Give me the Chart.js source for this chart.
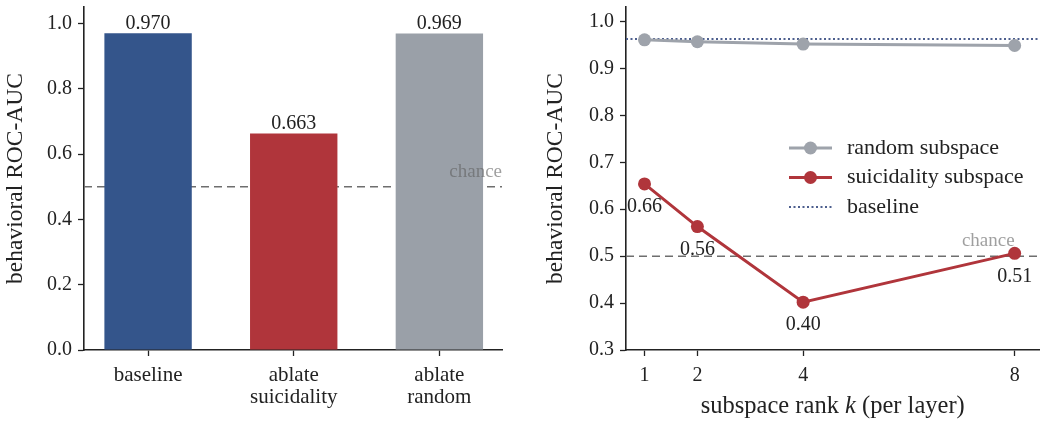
<!DOCTYPE html>
<html>
<head>
<meta charset="utf-8">
<script src="https://cdn.jsdelivr.net/npm/chart.js@4/dist/chart.umd.min.js"></script>
<style>
  html, body { margin: 0; padding: 0; background: #fff; }
  #left { position: absolute; left: 0; top: 0; }
  #right { position: absolute; left: 520px; top: 0; }
</style>
</head>
<body>
<canvas id="left" width="520" height="424"></canvas>
<canvas id="right" width="526" height="424"></canvas>
<script>
// left panel: ablation bars
const barLabels = [['baseline'], ['ablate', 'suicidality'], ['ablate', 'random']];
const barValues = [0.970, 0.663, 0.969];
const barColors = ['#34558b', '#b0353b', '#9aa0a8'];
const leftYTicks = [0.0, 0.2, 0.4, 0.6, 0.8, 1.0];

// right panel: subspace rank sweep
const ranks = [1, 2, 4, 8];
const randomAuc = [0.961, 0.957, 0.952, 0.949];
const suicidalityAuc = [0.654, 0.563, 0.402, 0.506];
const suicidalityText = ['0.66', '0.56', '0.40', '0.51'];
const rightYTicks = [0.3, 0.4, 0.5, 0.6, 0.7, 0.8, 0.9, 1.0];
const baselineAuc = 0.963;
const chanceLevel = 0.5;

const SERIF = '"Liberation Serif", "Times New Roman", serif';
const INK = '#222';
Chart.defaults.font.family = SERIF;
Chart.defaults.color = INK;

function font(size, style) {
  return (style || '') + ' ' + size + 'px ' + SERIF;
}

function chancePlugin(labelRight) {
  return {
    id: 'chance',
    beforeDatasetsDraw(chart) {
      const {ctx, chartArea, scales} = chart;
      const y = scales.y.getPixelForValue(chanceLevel);
      ctx.save();
      ctx.strokeStyle = '#6e6e6e';
      ctx.lineWidth = 1.5;
      ctx.setLineDash([8, 5]);
      ctx.beginPath();
      ctx.moveTo(chartArea.left, y);
      ctx.lineTo(chartArea.right, y);
      ctx.stroke();
      ctx.restore();
    },
    afterDatasetsDraw(chart) {
      const {ctx, scales} = chart;
      const y = scales.y.getPixelForValue(chanceLevel);
      ctx.save();
      ctx.font = font(19);
      ctx.fillStyle = 'rgba(95,95,95,0.6)';
      ctx.textAlign = 'right';
      ctx.textBaseline = 'alphabetic';
      ctx.fillText('chance', labelRight(chart), y - 10);
      ctx.restore();
    },
  };
}

const barValuePlugin = {
  id: 'barValues',
  afterDatasetsDraw(chart) {
    const {ctx} = chart;
    ctx.save();
    ctx.font = font(20);
    ctx.fillStyle = INK;
    ctx.textAlign = 'center';
    ctx.textBaseline = 'alphabetic';
    chart.getDatasetMeta(0).data.forEach((el, i) => {
      ctx.fillText(barValues[i].toFixed(3), el.x, el.y - 4);
    });
    ctx.restore();
  },
};

function yAxis(min, max, ticks, width, titlePad) {
  return {
    min: min,
    max: max,
    afterBuildTicks: (s) => { s.ticks = ticks.map((v) => ({value: v})); },
    afterFit: (s) => { s.width = width; s.paddingTop = 0; s.paddingBottom = 0; },
    ticks: {callback: (v) => v.toFixed(1), font: {size: 20}, padding: 6, color: INK},
    grid: {drawOnChartArea: false, tickLength: 6, tickColor: INK, tickWidth: 1.3},
    border: {color: INK, width: 1.6},
    title: {display: true, text: 'behavioral ROC-AUC', font: {size: 23.5}, padding: {top: titlePad}, color: INK},
  };
}

new Chart(document.getElementById('left'), {
  type: 'bar',
  data: {
    datasets: [{
      data: barValues.map((v, i) => ({x: i, y: v})),
      backgroundColor: barColors,
      barPercentage: 0.6,
      categoryPercentage: 1.0,
    }],
  },
  options: {
    responsive: false,
    animation: false,
    layout: {padding: {top: 7, right: 18, left: 0, bottom: 0}},
    plugins: {legend: {display: false}, tooltip: {enabled: false}},
    scales: {
      x: {
        type: 'linear',
        min: -0.44,
        max: 2.43,
        offset: false,
        afterBuildTicks: (s) => { s.ticks = barLabels.map((l, i) => ({value: i})); },
        afterFit: (s) => { s.height = 74; s.paddingLeft = 0; s.paddingRight = 0; },
        ticks: {
          callback: (v) => barLabels[v],
          font: {size: 21, lineHeight: 1.05},
          padding: 8,
          maxRotation: 0,
          autoSkip: false,
          color: INK,
        },
        grid: {offset: false, drawOnChartArea: false, tickLength: 6, tickColor: INK, tickWidth: 1.3},
        border: {color: INK, width: 1.6},
      },
      y: yAxis(0, 1.05, leftYTicks, 84, 2),
    },
  },
  plugins: [chancePlugin((c) => c.chartArea.right), barValuePlugin],
});

const legendItems = [
  {text: 'random subspace', dataset: 1},
  {text: 'suicidality subspace', dataset: 0},
  {text: 'baseline', dataset: null},
];

const rightExtras = {
  id: 'rightExtras',
  beforeDatasetsDraw(chart) {
    const {ctx, chartArea, scales} = chart;
    const y = scales.y.getPixelForValue(baselineAuc);
    ctx.save();
    ctx.strokeStyle = '#4d5f8e';
    ctx.lineWidth = 2;
    ctx.setLineDash([2, 2.5]);
    ctx.beginPath();
    ctx.moveTo(chartArea.left, y);
    ctx.lineTo(chartArea.right, y);
    ctx.stroke();
    ctx.restore();
  },
  afterDatasetsDraw(chart) {
    const {ctx} = chart;
    ctx.save();
    ctx.font = font(20);
    ctx.fillStyle = INK;
    ctx.textAlign = 'center';
    ctx.textBaseline = 'middle';
    chart.getDatasetMeta(0).data.forEach((el, i) => {
      ctx.fillText(suicidalityText[i], el.x, el.y + 23);
    });

    // legend
    const x0 = 269, x1 = 312, tx = 327;
    legendItems.forEach((item, i) => {
      const y = 148 + i * 29.5;
      ctx.save();
      if (item.dataset === null) {
        ctx.strokeStyle = '#4d5f8e';
        ctx.lineWidth = 2;
        ctx.setLineDash([2, 2.5]);
        ctx.beginPath();
        ctx.moveTo(x0, y);
        ctx.lineTo(x1, y);
        ctx.stroke();
      } else {
        const ds = chart.data.datasets[item.dataset];
        ctx.strokeStyle = ds.borderColor;
        ctx.lineWidth = ds.borderWidth;
        ctx.beginPath();
        ctx.moveTo(x0, y);
        ctx.lineTo(x1, y);
        ctx.stroke();
        ctx.fillStyle = ds.pointBackgroundColor;
        ctx.beginPath();
        ctx.arc((x0 + x1) / 2, y, ds.pointRadius, 0, Math.PI * 2);
        ctx.fill();
      }
      ctx.restore();
      ctx.font = font(22);
      ctx.fillStyle = INK;
      ctx.textAlign = 'left';
      ctx.textBaseline = 'middle';
      ctx.fillText(item.text, tx, y);
    });

    // x axis title with italic k
    const parts = [['subspace rank ', ''], ['k', 'italic'], [' (per layer)', '']];
    let total = 0;
    parts.forEach((p) => { ctx.font = font(24.5, p[1]); total += ctx.measureText(p[0]).width; });
    let x = (chart.chartArea.left + chart.chartArea.right) / 2 - total / 2;
    ctx.textAlign = 'left';
    ctx.textBaseline = 'alphabetic';
    parts.forEach((p) => {
      ctx.font = font(24.5, p[1]);
      ctx.fillText(p[0], x, 413);
      x += ctx.measureText(p[0]).width;
    });
    ctx.restore();
  },
};

new Chart(document.getElementById('right'), {
  type: 'line',
  data: {
    datasets: [
      {
        label: 'suicidality subspace',
        data: ranks.map((r, i) => ({x: r, y: suicidalityAuc[i]})),
        borderColor: '#b0353b',
        pointBackgroundColor: '#b0353b',
        borderWidth: 3,
        pointRadius: 6.5,
        pointBorderWidth: 0,
      },
      {
        label: 'random subspace',
        data: ranks.map((r, i) => ({x: r, y: randomAuc[i]})),
        borderColor: '#9ea3ab',
        pointBackgroundColor: '#9ea3ab',
        borderWidth: 3,
        pointRadius: 6.5,
        pointBorderWidth: 0,
      },
    ],
  },
  options: {
    responsive: false,
    animation: false,
    layout: {padding: {top: 7, right: 0, left: 0, bottom: 0}},
    plugins: {legend: {display: false}, tooltip: {enabled: false}},
    scales: {
      x: {
        type: 'linear',
        min: 0.65,
        max: 8.47,
        afterBuildTicks: (s) => { s.ticks = ranks.map((r) => ({value: r})); },
        afterFit: (s) => { s.height = 74; s.paddingLeft = 0; s.paddingRight = 0; },
        ticks: {callback: (v) => String(v), font: {size: 20}, padding: 8, maxRotation: 0, autoSkip: false, color: INK},
        grid: {drawOnChartArea: false, tickLength: 6, tickColor: INK, tickWidth: 1.3},
        border: {color: INK, width: 1.6},
      },
      y: yAxis(0.3, 1.031, rightYTicks, 106, 22),
    },
  },
  plugins: [chancePlugin((c) => c.scales.x.getPixelForValue(8)), rightExtras],
});
</script>
</body>
</html>
